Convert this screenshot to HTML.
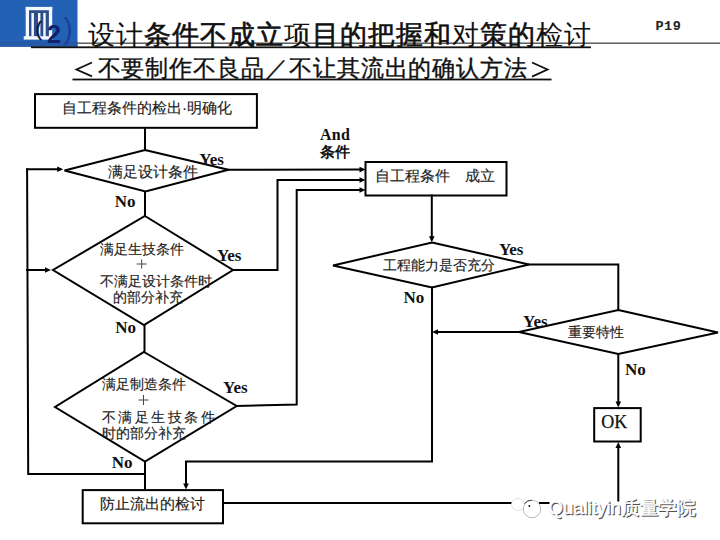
<!DOCTYPE html>
<html><head><meta charset="utf-8">
<style>
html,body{margin:0;padding:0;background:#fff;width:720px;height:540px;overflow:hidden}
svg{display:block}
.s{font-family:"Liberation Sans",sans-serif}
.y{font-family:"Liberation Serif",serif;font-weight:bold}
</style></head><body>
<svg width="720" height="540" viewBox="0 0 720 540">
<!-- header -->
<rect x="0" y="0" width="77.5" height="46.7" fill="#2261b4"/>
<rect x="0" y="41.5" width="77.5" height="5.2" fill="#2558a6"/>
<rect x="29" y="10.2" width="20" height="26" fill="#2f4f8a"/>
<g fill="#f4f8ff">
<rect x="25.7" y="6.9" width="26.5" height="3.3"/>
<rect x="25.7" y="6.9" width="3.3" height="31"/>
<rect x="48.9" y="6.9" width="3.3" height="31"/>
<rect x="31.4" y="13" width="2.5" height="23.5"/>
<rect x="38" y="13" width="2.4" height="23.5"/>
<rect x="43.3" y="13" width="2.4" height="23.5"/>
<rect x="23.7" y="36.2" width="29.3" height="3.4"/>
</g>
<g class="s" fill="#0b1440">
<text x="35.5" y="36.5" font-size="20" stroke="#0b1440" stroke-width="0.4" transform="translate(35.5,36.5) scale(0.95,1) translate(-35.5,-36.5)">(</text>
<text x="47" y="43.2" font-size="25" font-weight="bold" fill="#10226a">2</text>
<text x="63.5" y="39.5" font-size="29" fill="#1d3c94" transform="translate(63.5,39.5) scale(0.95,1) translate(-63.5,-39.5)">)</text>
</g>
<rect x="77.5" y="42.6" width="642.5" height="1.1" fill="#222"/>
<rect x="31" y="46.4" width="560" height="1.8" fill="#111"/>
<text class="s" x="88" y="44" font-size="27" letter-spacing="1" fill="#111">设计<tspan stroke="#111" stroke-width="0.6">条件不成立</tspan>项<tspan stroke="#111" stroke-width="0.6">目的把握和</tspan>对<tspan stroke="#111" stroke-width="0.6">策的</tspan>检讨</text>
<text class="s" x="97.5" y="75.5" font-size="23" letter-spacing="0.92" fill="#111" stroke="#111" stroke-width="0.35">不要制作不良品／不让其流出的确认方法</text>
<polyline points="92,62.5 76.5,69.5 92,76.4" fill="none" stroke="#111" stroke-width="1.8"/>
<polyline points="532,62.5 547.5,69.5 532,76.6" fill="none" stroke="#111" stroke-width="1.8"/>
<rect x="72.5" y="78.6" width="479" height="1.8" fill="#111"/>
<text x="655.5" y="29.6" font-family="Liberation Mono" font-weight="bold" font-size="13.5" letter-spacing="0.5" fill="#222">P19</text>

<rect x="35" y="94.1" width="221.89999999999998" height="33.7" fill="none" stroke="#000" stroke-width="2.0"/>
<polyline points="145.0,128.0 145.0,150.0" fill="none" stroke="#000" stroke-width="2.0" stroke-linejoin="miter" stroke-linecap="square"/>
<polygon points="145,150 228.4,169.8 145.5,191.4 64.5,170.5" fill="none" stroke="#000" stroke-width="2.0" stroke-linejoin="miter"/>
<polygon points="365.5,169.6 359.5,172.4 359.5,166.8" fill="#000"/>
<polyline points="228.4,169.8 360.5,169.6" fill="none" stroke="#000" stroke-width="2.0" stroke-linejoin="miter" stroke-linecap="square"/>
<rect x="365.5" y="162" width="141.0" height="33.5" fill="none" stroke="#000" stroke-width="2.0"/>
<polygon points="365.5,180.0 359.5,182.8 359.5,177.2" fill="#000"/>
<polyline points="233.0,270.0 277.5,270.0 277.5,180.0 360.5,180.0" fill="none" stroke="#000" stroke-width="2.0" stroke-linejoin="miter" stroke-linecap="square"/>
<polygon points="365.5,190.0 359.5,192.8 359.5,187.2" fill="#000"/>
<polyline points="236.7,406.0 296.7,404.5 296.7,190.0 360.5,190.0" fill="none" stroke="#000" stroke-width="2.0" stroke-linejoin="miter" stroke-linecap="square"/>
<polygon points="63.2,169.2 57.2,172.0 57.2,166.4" fill="#000"/>
<polyline points="27.1,169.2 58.2,169.2" fill="none" stroke="#000" stroke-width="2.0" stroke-linejoin="miter" stroke-linecap="square"/>
<polygon points="51.0,270.0 45.0,272.8 45.0,267.2" fill="#000"/>
<polyline points="27.1,270.0 46.0,270.0" fill="none" stroke="#000" stroke-width="2.0" stroke-linejoin="miter" stroke-linecap="square"/>
<polyline points="27.1,169.2 28.2,474.0 145.0,474.0" fill="none" stroke="#000" stroke-width="2.0" stroke-linejoin="miter" stroke-linecap="square"/>
<polyline points="145.0,193.0 145.0,216.0" fill="none" stroke="#000" stroke-width="2.0" stroke-linejoin="miter" stroke-linecap="square"/>
<polygon points="145,216 233,270 144,325 53,270" fill="none" stroke="#000" stroke-width="2.0" stroke-linejoin="miter"/>
<polyline points="144.5,325.0 144.5,352.0" fill="none" stroke="#000" stroke-width="2.0" stroke-linejoin="miter" stroke-linecap="square"/>
<polygon points="144,352 236.7,406 145,461.7 55,407" fill="none" stroke="#000" stroke-width="2.0" stroke-linejoin="miter"/>
<polyline points="145.0,461.7 145.0,489.5" fill="none" stroke="#000" stroke-width="2.0" stroke-linejoin="miter" stroke-linecap="square"/>
<rect x="82.7" y="490.1" width="140.3" height="33.19999999999993" fill="none" stroke="#000" stroke-width="2.0"/>
<polygon points="618.3,442.0 621.1,448.0 615.5,448.0" fill="#000"/>
<polyline points="223.0,503.0 618.3,503.0 618.3,447.0" fill="none" stroke="#000" stroke-width="2.0" stroke-linejoin="miter" stroke-linecap="square"/>
<rect x="594.2" y="408.1" width="46.5" height="33.39999999999998" fill="none" stroke="#000" stroke-width="2.0"/>
<polygon points="432,242.5 529,264.5 432,287.5 333,265.5" fill="none" stroke="#000" stroke-width="2.0" stroke-linejoin="miter"/>
<polygon points="431.8,242.3 429.0,236.3 434.6,236.3" fill="#000"/>
<polyline points="431.8,195.5 431.8,237.3" fill="none" stroke="#000" stroke-width="2.0" stroke-linejoin="miter" stroke-linecap="square"/>
<polyline points="529.0,264.5 618.3,264.5 618.3,310.0" fill="none" stroke="#000" stroke-width="2.0" stroke-linejoin="miter" stroke-linecap="square"/>
<polygon points="618.3,310 718,332.5 618.3,354 519,332" fill="none" stroke="#000" stroke-width="2.0" stroke-linejoin="miter"/>
<polygon points="432.0,332.0 438.0,329.2 438.0,334.8" fill="#000"/>
<polyline points="519.0,332.0 437.0,332.0" fill="none" stroke="#000" stroke-width="2.0" stroke-linejoin="miter" stroke-linecap="square"/>
<polygon points="186.0,489.5 183.2,483.5 188.8,483.5" fill="#000"/>
<polyline points="432.0,287.5 432.0,461.5 186.0,461.5 186.0,484.5" fill="none" stroke="#000" stroke-width="2.0" stroke-linejoin="miter" stroke-linecap="square"/>
<polygon points="618.3,407.5 615.5,401.5 621.1,401.5" fill="#000"/>
<polyline points="618.3,354.0 618.3,402.5" fill="none" stroke="#000" stroke-width="2.0" stroke-linejoin="miter" stroke-linecap="square"/>
<g class="s" fill="#222" font-size="15" stroke="#222" stroke-width="0.15">
<text x="62" y="113">自工程条件的检出·明确化</text>
<text x="108" y="176.5">满足设计条件</text>
<text x="100" y="509.2">防止流出的检讨</text>
<text x="375" y="181">自工程条件　成立</text>
</g>
<g class="s" fill="#222" font-size="14" stroke="#222" stroke-width="0.15">
<text x="100" y="253.5">满足生技条件</text>
<text x="100" y="285.5">不满足设计条件时</text>
<text x="113" y="302">的部分补充</text>
<text x="101.5" y="388.5">满足制造条件</text>
<text x="101.5" y="421.5" letter-spacing="2.5">不满足生技条件</text>
<text x="101.5" y="437.5">时的部分补充</text>
<text x="383" y="270">工程能力是否充分</text>
<text x="568" y="337">重要特性</text>
</g>
<g class="y" fill="#111" font-size="17">
<text x="199.3" y="164.5">Yes</text>
<text x="114.8" y="206.5">No</text>
<text x="216.9" y="260.5">Yes</text>
<text x="115.3" y="332.5">No</text>
<text x="223.1" y="392.5">Yes</text>
<text x="111.7" y="467.5">No</text>
<text x="498.9" y="254.5">Yes</text>
<text x="403.4" y="302.5">No</text>
<text x="523.1" y="326.5">Yes</text>
<text x="625.1" y="374.5">No</text>
<text x="320" y="140" font-size="16" letter-spacing="0.3">And</text>
</g>
<text x="320" y="157.3" class="s" font-weight="bold" font-size="15" fill="#111">条件</text>
<text x="601.3" y="427.8" font-family="Liberation Serif" font-size="18" fill="#111" stroke="#111" stroke-width="0.25">OK</text>
<path d="M136.7,264H146.7M141.7,259.5V268.5M138.5,400H148.5M143.5,395V405" stroke="#444" stroke-width="1"/>
<!-- watermark -->
<rect x="512" y="496" width="27" height="22" fill="#fff"/>
<g fill="#fff" stroke-width="0.8">
<ellipse cx="518" cy="504.5" rx="6.5" ry="6" stroke="#ddd"/>
<circle cx="532" cy="509" r="8.8" stroke="#aaa"/>
</g>
<path d="M524.5,503.5 A8.8,8.8 0 0 1 532,500.2" fill="none" stroke="#444" stroke-width="1"/>
<circle cx="529.3" cy="506" r="1" fill="#222"/>
<rect x="549.5" y="501.5" width="148" height="16" fill="#fff"/>
<g class="s" font-size="19">
<text x="549.5" y="515" textLength="147" lengthAdjust="spacingAndGlyphs" fill="#444" stroke="#444" stroke-width="0.5">Qualityin质量学院</text>
<text x="548.5" y="514" textLength="147" lengthAdjust="spacingAndGlyphs" fill="#fff" stroke="#fff" stroke-width="0.5">Qualityin质量学院</text>
</g>
</svg>
</body></html>
